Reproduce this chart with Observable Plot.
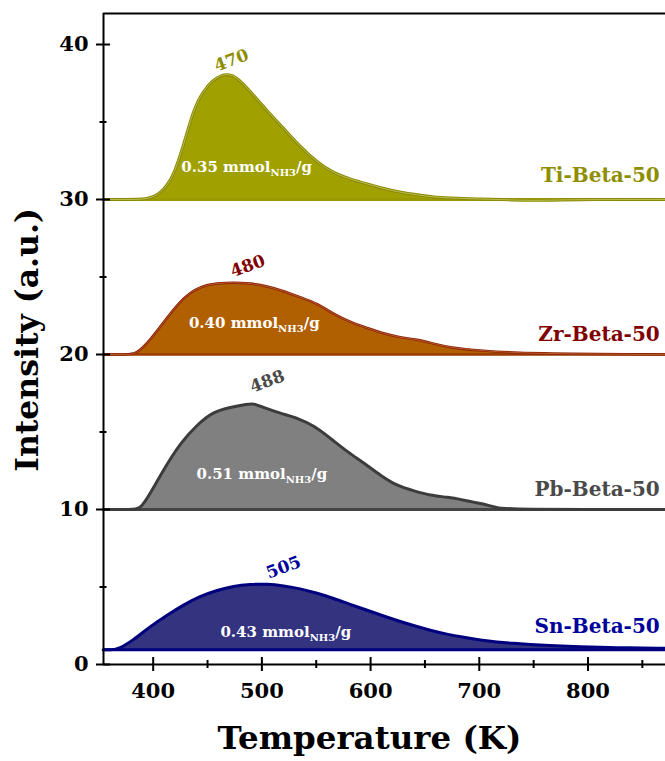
<!DOCTYPE html>
<html><head><meta charset="utf-8">
<script src="https://cdn.jsdelivr.net/npm/d3@7"></script>
<script src="https://cdn.jsdelivr.net/npm/@observablehq/plot@0.6"></script>
<style>
html,body{margin:0;padding:0;background:#fff;}
</style></head><body><div id="chart"></div>
<script>
// ---- data ----
const names = ["Ti-Beta-50", "Zr-Beta-50", "Pb-Beta-50", "Sn-Beta-50"];
const baselines = [30, 20, 10, 0.95];
const peakLabels = ["470", "480", "488", "505"];
const amounts = ["0.35", "0.40", "0.51", "0.43"];

const tiT = [354, 378, 385, 395, 401, 407, 413, 419, 428, 437, 446, 455, 462, 469, 477, 489, 505, 520, 536, 551, 566, 582, 597, 612, 628, 643, 658, 674, 690, 710, 730, 750, 775, 800, 871];
const tiV = [30, 30, 30, 30.05, 30.2, 30.45, 30.95, 31.6, 33.5, 35.8, 37.0, 37.7, 38.0, 38.1, 37.9, 37.0, 35.7, 34.6, 33.35, 32.4, 31.7, 31.3, 31.0, 30.7, 30.45, 30.3, 30.15, 30.1, 30.05, 30.02, 29.97, 29.94, 29.97, 30, 30];

const zrT = [354, 376, 384, 397, 413, 428, 443, 459, 474, 489, 505, 520, 535, 551, 566, 581, 597, 612, 627, 643, 658, 673, 701, 745, 871];
const zrV = [20, 20, 20, 20.9, 22.4, 23.7, 24.4, 24.6, 24.65, 24.6, 24.4, 24.1, 23.7, 23.3, 22.6, 22.1, 21.7, 21.35, 21.1, 20.97, 20.7, 20.45, 20.25, 20.05, 20];

const pbT = [354, 380, 388, 397, 409, 425, 441, 455, 471, 487, 492, 501, 517, 533, 548, 563, 579, 594, 609, 625, 640, 655, 671, 686, 701, 717, 726, 871];
const pbV = [10, 10, 10, 11.0, 12.5, 14.3, 15.5, 16.3, 16.6, 16.8, 16.85, 16.6, 16.2, 15.9, 15.4, 14.6, 13.7, 13.0, 12.2, 11.5, 11.2, 10.9, 10.8, 10.6, 10.4, 10.1, 10, 10];

const snT = [354, 360, 367, 382, 397, 413, 428, 443, 459, 474, 489, 505, 520, 535, 551, 566, 581, 597, 612, 627, 640, 655, 670, 686, 701, 716, 732, 747, 762, 793, 824, 871];
const snV = [0.95, 0.95, 0.95, 1.58, 2.45, 3.2, 3.85, 4.4, 4.8, 5.06, 5.17, 5.2, 5.08, 4.9, 4.6, 4.27, 3.88, 3.5, 3.12, 2.78, 2.5, 2.2, 1.95, 1.75, 1.58, 1.45, 1.36, 1.29, 1.23, 1.15, 1.08, 1.05];

const yMajor = [0, 10, 20, 30, 40];
const yMinor = [5, 15, 25, 35];
const xMajor = [400, 500, 600, 700, 800];
const xMinor = [450, 550, 650, 750, 850];
const xDomain = [354.3, 871.3];
const yDomain = [0, 42];

// annotation anchor points (data units)
const peakT = [472, 487, 505, 520];
const peakV = [38.97, 25.7, 18.26, 6.26];
const amountT = [486, 493, 500, 522];
const amountV = [31.76, 21.68, 11.98, 1.76];
const nameT = 866;
const nameV = [31.1, 20.84, 10.86, 2.05];

// ---- styles ----
const styles = [
  {fill: "#a0a000", stroke: "#8a8a00", inner: "#c9c96a", sw: 3, label: "#8e8e00", base: "#9a9a00", bw: 3},
  {fill: "#b06000", stroke: "#8b2000", inner: "#c26a3a", sw: 2.5, label: "#800000", base: "#9a3a00", bw: 2.5},
  {fill: "#808080", stroke: "#3c3c3c", inner: null, sw: 3, label: "#4a4a4a", base: "#444444", bw: 3},
  {fill: "#33337f", stroke: "#00007f", inner: null, sw: 3, label: "#00009a", base: "#00007f", bw: 3}
];

const seriesT = [tiT, zrT, pbT, snT];
const seriesV = [tiV, zrV, pbV, snV];
const curve = "basis";

const marks = [];
seriesT.forEach((Ts, i) => {
  const rows = Ts.map((t, j) => ({T: t, v: seriesV[i][j]}));
  const s = styles[i];
  const base = baselines[i];
  marks.push(Plot.areaY(rows, {x: "T", y1: base, y2: "v", fill: s.fill, curve}));
  marks.push(Plot.ruleY([base], {stroke: s.base, strokeWidth: s.bw}));
  marks.push(Plot.line(rows, {x: "T", y: "v", stroke: s.stroke, strokeWidth: s.sw, curve}));
  if (s.inner) marks.push(Plot.line(rows, {x: "T", y: "v", stroke: s.inner, strokeWidth: 0.8, curve}));
  marks.push(Plot.text([peakLabels[i]], {x: () => peakT[i], y: () => peakV[i], text: d => d, rotate: -20, fill: s.label, fontSize: 17, fontWeight: "bold"}));
  marks.push(Plot.text([amounts[i]], {x: () => amountT[i], y: () => amountV[i], text: d => d + " mmol|NH3|/g", fill: "white", fontSize: 15, fontWeight: "bold", lineAnchor: "bottom"}));
  marks.push(Plot.text([names[i]], {x: () => nameT, y: () => nameV[i], text: d => d, textAnchor: "end", lineAnchor: "bottom", fill: s.label, fontSize: 20, fontWeight: "bold"}));
});

// frame
marks.push(Plot.ruleY([yDomain[1]], {stroke: "black", strokeWidth: 2}));
marks.push(Plot.ruleY([yDomain[0]], {stroke: "black", strokeWidth: 2}));
marks.push(Plot.ruleX([xDomain[0]], {stroke: "black", strokeWidth: 2}));

// axes
marks.push(Plot.axisY({ticks: yMajor, tickSize: 14, dx: 7, tickPadding: 8, fontSize: 21, fontWeight: "bold", strokeWidth: 2, label: null, stroke: "black", fill: "black"}));
marks.push(Plot.axisY({ticks: yMinor, tickSize: 7, dx: 3.5, strokeWidth: 2, label: null, stroke: "black", fill: "none"}));
marks.push(Plot.axisX({ticks: xMajor, tickSize: 14, dy: -7, tickPadding: 12, fontSize: 21, fontWeight: "bold", strokeWidth: 2, label: null, stroke: "black", fill: "black"}));
marks.push(Plot.axisX({ticks: xMinor, tickSize: 8, dy: -4, strokeWidth: 2, label: null, stroke: "black", fill: "none"}));

// axis titles
marks.push(Plot.text(["Temperature (K)"], {frameAnchor: "bottom", text: d => d, dy: 84, dx: -15, fontSize: 32.5, fontWeight: "bold", fill: "black", textAnchor: "middle"}));
marks.push(Plot.text(["Intensity (a.u.)"], {frameAnchor: "left", text: d => d, rotate: -90, dx: -76, dy: 1, fontSize: 31.5, fontWeight: "bold", fill: "black", textAnchor: "middle"}));

const chart = Plot.plot({
  width: 665,
  height: 761,
  marginLeft: 103,
  marginRight: 0,
  marginTop: 13,
  marginBottom: 97,
  x: {domain: xDomain},
  y: {domain: yDomain},
  style: {fontFamily: "'DejaVu Serif', serif", fontWeight: "bold", background: "white"},
  marks
});

// subscript for NH3
const ns = "http://www.w3.org/2000/svg";
chart.querySelectorAll("text").forEach(t => {
  const parts = t.textContent.split("|");
  if (parts.length !== 3) return;
  while (t.firstChild) t.removeChild(t.firstChild);
  const a = document.createElementNS(ns, "tspan"); a.textContent = parts[0];
  const b = document.createElementNS(ns, "tspan"); b.textContent = parts[1];
  b.setAttribute("font-size", "10"); b.setAttribute("dy", "4");
  const c = document.createElementNS(ns, "tspan"); c.textContent = parts[2];
  c.setAttribute("dy", "-4");
  t.appendChild(a); t.appendChild(b); t.appendChild(c);
});

document.getElementById("chart").appendChild(chart);
</script>
</body></html>
